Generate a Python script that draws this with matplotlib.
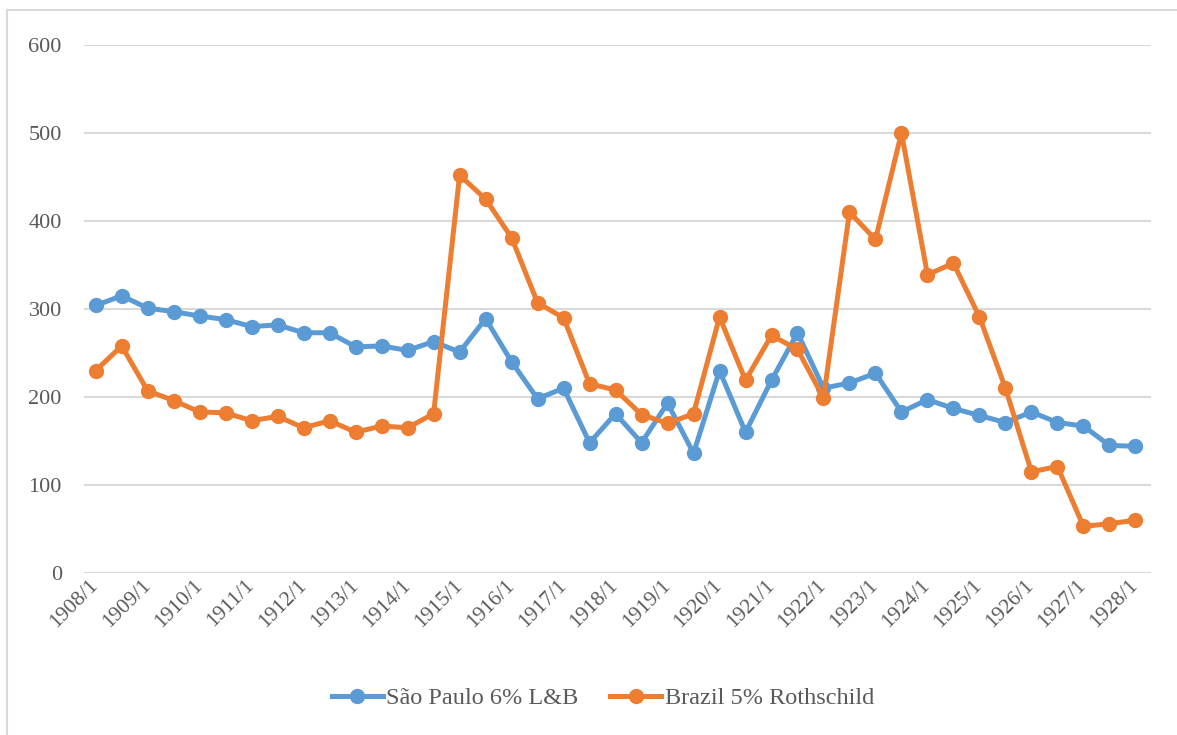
import matplotlib
matplotlib.use("Agg")
import matplotlib.pyplot as plt
from matplotlib.patches import Rectangle

# semiannual observations, 1908/1 .. 1928/1
periods = [f"{y}/{m}" for y in range(1908, 1929) for m in (1, 7)][:41]

sao_paulo = [304, 315, 301, 297, 292, 288, 280, 282, 273, 273,
             257, 258, 253, 263, 251, 289, 240, 198, 210, 148,
             181, 148, 193, 136, 230, 160, 219, 273, 210, 216,
             227, 183, 197, 187, 179, 171, 183, 171, 167, 145, 144]

brazil = [230, 258, 207, 196, 183, 182, 173, 178, 165, 173,
          160, 167, 165, 181, 452, 425, 381, 307, 290, 215,
          208, 180, 170, 181, 291, 219, 270, 254, 199, 410,
          379, 500, 339, 352, 291, 210, 115, 121, 53, 56, 60]

series_names = ["São Paulo 6% L&B", "Brazil 5% Rothschild"]
colors = ["#5B9BD5", "#ED7D31"]

plt.rcParams['font.family'] = ['Liberation Serif', 'DejaVu Serif']

fig = plt.figure(figsize=(11.77, 7.35), dpi=100)
ax = fig.add_axes([84 / 1177, 1 - 573 / 735, (1151 - 84) / 1177, (573 - 45) / 735])

x = list(range(len(periods)))
for vals, name, c in zip([sao_paulo, brazil], series_names, colors):
    ax.plot(x, vals, color=c, lw=3.6, marker='o', markersize=10, label=name,
            solid_joinstyle='round', zorder=3)

ax.set_ylim(0, 600)
ax.set_xlim(-0.45, 40.6)
ax.set_yticks(range(0, 601, 100))
ax.grid(axis='y', color='#D9D9D9', lw=1.5)
ax.set_axisbelow(True)
for s in ax.spines.values():
    s.set_visible(False)

ax.set_xticks(x[::2])
ax.set_xticklabels(periods[::2], rotation=45, ha='right', va='center',
                   rotation_mode='anchor')
ax.tick_params(axis='both', length=0, labelcolor='#595959')
ax.tick_params(axis='y', pad=16, labelsize=16)
ax.tick_params(axis='x', pad=7, labelsize=15.5)

leg = fig.legend(loc='center', bbox_to_anchor=(603 / 1177, 1 - 698 / 735), ncol=2,
                 frameon=False, fontsize=17.5, handlelength=2.1, columnspacing=1.3,
                 handletextpad=0.15)
for t in leg.get_texts():
    t.set_color('#595959')

fig.add_artist(Rectangle((7 / 1177, -0.1), 1.2, 1.1 - 10 / 735, transform=fig.transFigure,
                         fill=False, edgecolor='#D9D9D9', lw=1.5))

fig.savefig("out.png", dpi=100, facecolor='white')
